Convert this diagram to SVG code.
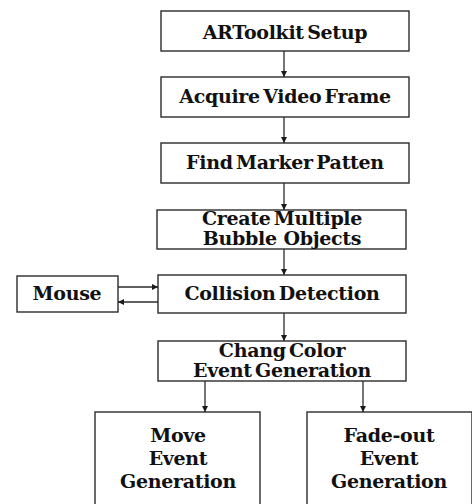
<svg xmlns="http://www.w3.org/2000/svg" width="472" height="504" viewBox="0 0 472 504">
  <style>
    .box { fill: #ffffff; stroke: #2b2b2b; stroke-width: 1.4; }
    .lbl { font-family: "DejaVu Serif", "Liberation Serif", serif; font-weight: bold; font-size: 19px; fill: #111111; text-anchor: middle; word-spacing: -3px; letter-spacing: -0.3px; }
    .pre { white-space: pre; }
    .edge { fill: none; stroke: #2b2b2b; stroke-width: 1.3; marker-end: url(#head); }
  </style>
  <defs>
    <marker id="head" viewBox="0 0 8 8" refX="8" refY="4" markerWidth="6" markerHeight="6" markerUnits="userSpaceOnUse" orient="auto">
      <path d="M0,0 L8,4 L0,8 z" fill="#1a1a1a"/>
    </marker>
  </defs>
  <rect width="472" height="504" fill="#ffffff"/>

  <g id="setup">
    <rect class="box" x="161" y="11" width="248" height="40"/>
    <text class="lbl" x="285" y="39">ARToolkit Setup</text>
  </g>
  <g id="acquire">
    <rect class="box" x="161" y="77" width="248" height="40"/>
    <text class="lbl" x="285" y="103">Acquire Video Frame</text>
  </g>
  <g id="find-marker">
    <rect class="box" x="161" y="143" width="248" height="40"/>
    <text class="lbl" x="285" y="169">Find Marker Patten</text>
  </g>
  <g id="create-bubbles">
    <rect class="box" x="157" y="210" width="249" height="39"/>
    <text class="lbl" x="282" y="225">Create Multiple</text>
    <text class="lbl pre" x="282" y="245">Bubble  Objects</text>
  </g>
  <g id="mouse">
    <rect class="box" x="17" y="276" width="101" height="36"/>
    <text class="lbl" x="67" y="300">Mouse</text>
  </g>
  <g id="collision">
    <rect class="box" x="158" y="275" width="248" height="38"/>
    <text class="lbl" x="282" y="300">Collision Detection</text>
  </g>
  <g id="color-event">
    <rect class="box" x="158" y="341" width="248" height="40"/>
    <text class="lbl" x="282" y="357">Chang Color</text>
    <text class="lbl" x="282" y="377">Event Generation</text>
  </g>
  <g id="move-event">
    <rect class="box" x="95" y="412" width="165" height="100"/>
    <text class="lbl" x="178" y="442">Move</text>
    <text class="lbl" x="178" y="465">Event</text>
    <text class="lbl" x="178" y="488">Generation</text>
  </g>
  <g id="fade-event">
    <rect class="box" x="307" y="412" width="165" height="100"/>
    <text class="lbl" x="389" y="442">Fade-out</text>
    <text class="lbl" x="389" y="465">Event</text>
    <text class="lbl" x="389" y="488">Generation</text>
  </g>

  <g id="connectors">
    <path class="edge" d="M284,51 V77"/>
    <path class="edge" d="M284,117 V143"/>
    <path class="edge" d="M284,183 V210"/>
    <path class="edge" d="M284,249 V275"/>
    <path class="edge" d="M118,287 H158"/>
    <path class="edge" d="M158,302 H118"/>
    <path class="edge" d="M284,313 V341"/>
    <path class="edge" d="M205,381 V412"/>
    <path class="edge" d="M363,381 V412"/>
  </g>
</svg>
